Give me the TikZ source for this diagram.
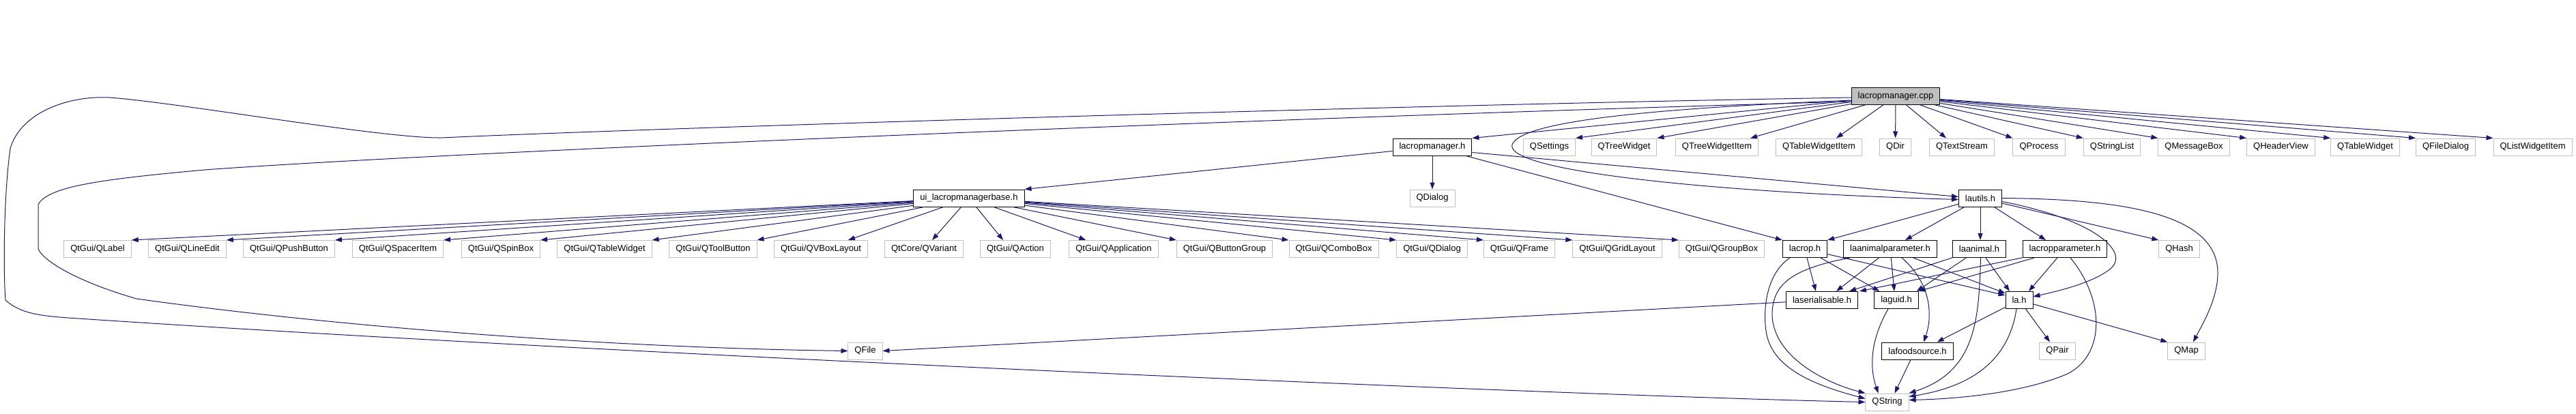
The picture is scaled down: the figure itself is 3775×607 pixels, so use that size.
\documentclass[tikz,border=0pt]{standalone}
\usepackage{fontspec}
\setmainfont{Liberation Sans}
\usetikzlibrary{arrows.meta,calc}
\definecolor{edgecol}{HTML}{191970}
\definecolor{graybd}{HTML}{BFBFBF}
\begin{document}
\begin{tikzpicture}[x=1pt,y=-1pt,
  box/.style={rectangle, draw, line width=1pt, fill=white, minimum height=25pt, inner xsep=9.5pt, inner ysep=2pt, font=\fontsize{13}{15}\selectfont},
  gbox/.style={box, draw=graybd},
  bbox/.style={box, draw=black},
  cppbox/.style={box, draw=black, fill=graybd},
  dep/.style={draw=edgecol, line width=1pt, -{Triangle[length=10pt,width=7pt]}, edgecol}]
\useasboundingbox (0,0) rectangle (3775,607);
% row 0
\node[cppbox] (cpp) at (2778,141) {lacropmanager.cpp};
% row 1
\node[bbox] (lcmh) at (2099,215.5) {lacropmanager.h};
\node[gbox] (qsettings) at (2270.5,215.5) {QSettings};
\node[gbox] (qtreewidget) at (2380,215.5) {QTreeWidget};
\node[gbox] (qtreewidgetitem) at (2516,215.5) {QTreeWidgetItem};
\node[gbox] (qtablewidgetitem) at (2665.5,215.5) {QTableWidgetItem};
\node[gbox] (qdir) at (2777.5,215.5) {QDir};
\node[gbox] (qtextstream) at (2875,215.5) {QTextStream};
\node[gbox] (qprocess) at (2988,215.5) {QProcess};
\node[gbox] (qstringlist) at (3095,215.5) {QStringList};
\node[gbox] (qmessagebox) at (3215,215.5) {QMessageBox};
\node[gbox] (qheaderview) at (3342.5,215.5) {QHeaderView};
\node[gbox] (qtablewidget) at (3466,215.5) {QTableWidget};
\node[gbox] (qfiledialog) at (3584,215.5) {QFileDialog};
\node[gbox] (qlistwidgetitem) at (3711.5,215.5) {QListWidgetItem};
% row 2
\node[bbox] (ui) at (1420,290.5) {ui\_lacropmanagerbase.h};
\node[gbox] (qdialog) at (2099,290.5) {QDialog};
\node[bbox] (lautils) at (2902,290.5) {lautils.h};
% row 3
\node[gbox] (qlabel) at (143,365) {QtGui/QLabel};
\node[gbox] (qlineedit) at (274.5,365) {QtGui/QLineEdit};
\node[gbox] (qpushbutton) at (423.5,365) {QtGui/QPushButton};
\node[gbox] (qspaceritem) at (583,365) {QtGui/QSpacerItem};
\node[gbox] (qspinbox) at (734,365) {QtGui/QSpinBox};
\node[gbox] (qtablewidgetA) at (886,365) {QtGui/QTableWidget};
\node[gbox] (qtoolbutton) at (1045,365) {QtGui/QToolButton};
\node[gbox] (qvboxlayout) at (1203,365) {QtGui/QVBoxLayout};
\node[gbox] (qvariant) at (1354,365) {QtCore/QVariant};
\node[gbox] (qaction) at (1488,365) {QtGui/QAction};
\node[gbox] (qapplication) at (1632,365) {QtGui/QApplication};
\node[gbox] (qbuttongroup) at (1794.5,365) {QtGui/QButtonGroup};
\node[gbox] (qcombobox) at (1954.5,365) {QtGui/QComboBox};
\node[gbox] (qdialogA) at (2098.5,365) {QtGui/QDialog};
\node[gbox] (qframe) at (2226.5,365) {QtGui/QFrame};
\node[gbox] (qgridlayout) at (2370,365) {QtGui/QGridLayout};
\node[gbox] (qgroupbox) at (2523,365) {QtGui/QGroupBox};
\node[bbox] (lacrop) at (2645,365) {lacrop.h};
\node[bbox] (laap) at (2770,365) {laanimalparameter.h};
\node[bbox] (laanimal) at (2900.5,365) {laanimal.h};
\node[bbox] (lcp) at (3026,365) {lacropparameter.h};
\node[gbox] (qhash) at (3193.5,365) {QHash};
% row 4
\node[bbox] (laser) at (2670,440) {laserialisable.h};
\node[bbox] (laguid) at (2779,440) {laguid.h};
\node[bbox] (lah) at (2959,440) {la.h};
% row 5
\node[gbox] (qfile) at (1268,514.5) {QFile};
\node[bbox] (lafood) at (2810,514.5) {lafoodsource.h};
\node[gbox] (qpair) at (3015,514.5) {QPair};
\node[gbox] (qmap) at (3204,514.5) {QMap};
% row 6
\node[gbox] (qstring) at (2765.5,589.5) {QString};

% ---- edges from lacropmanager.cpp
\draw[dep] (cpp) -- (lcmh.north east);
\draw[dep] (cpp) -- (qsettings.north east);
\draw[dep] (cpp) -- (qtreewidget.north east);
\draw[dep] (cpp) -- ($(qtreewidgetitem.north east)+(-12,0)$);
\draw[dep] (cpp) -- ($(qtablewidgetitem.north east)+(-38,0)$);
\draw[dep] (cpp) -- (qdir);
\draw[dep] (cpp) -- ($(qtextstream.north)+(-23,0)$);
\draw[dep] (cpp) -- (qprocess.north west);
\draw[dep] (cpp) -- (qstringlist.north west);
\draw[dep] (cpp) -- (qmessagebox.north west);
\draw[dep] (cpp) -- (qheaderview.north west);
\draw[dep] (cpp) -- (qtablewidget.north west);
\draw[dep] (cpp) -- (qfiledialog.north west);
\draw[dep] (cpp) -- (qlistwidgetitem.north west);
\draw[dep] ($(cpp.west)+(0,6)$) .. controls (2450,158) and (2230,175) .. (2216,212) .. controls (2205,250) and (2500,282) .. ($(lautils.west)+(0,2)$);
\draw[dep] ($(cpp.west)+(0,2)$) .. controls (2000,155) and (900,190) .. (647,202) .. controls (560,203) and (260,150) .. (160,143) .. controls (100,140) and (30,165) .. (15,218) .. controls (5,290) and (5,400) .. (8,440) .. controls (30,460) and (60,463) .. (100,466) .. controls (900,520) and (2300,580) .. (qstring.west);
\draw[dep] ($(cpp.west)+(0,8)$) .. controls (2000,168) and (700,220) .. (300,249) .. controls (160,262) and (70,272) .. (56,300) -- (56,365) .. controls (65,385) and (120,415) .. (200,438) .. controls (500,480) and (900,510) .. (qfile.west);

% ---- edges from lacropmanager.h
\draw[dep] (lcmh) -- (ui.north east);
\draw[dep] (lcmh) -- (qdialog);
\draw[dep] (lcmh) -- (lacrop.north west);
\draw[dep] ($(lcmh.east)+(0,8)$) -- ($(lautils.west)+(0,-2)$);

% ---- edges from ui_lacropmanagerbase.h
\draw[dep] (ui) -- (qlabel.north east);
\draw[dep] (ui) -- (qlineedit.north east);
\draw[dep] (ui) -- (qpushbutton.north east);
\draw[dep] (ui) -- (qspaceritem.north east);
\draw[dep] (ui) -- (qspinbox.north east);
\draw[dep] (ui) -- (qtablewidgetA.north east);
\draw[dep] (ui) -- (qtoolbutton.north east);
\draw[dep] (ui) -- ($(qvboxlayout.north east)+(-29,0)$);
\draw[dep] (ui) -- ($(qvariant.north)+(12,0)$);
\draw[dep] (ui) -- ($(qaction.north)+(-18,0)$);
\draw[dep] (ui) -- ($(qapplication.north west)+(25,0)$);
\draw[dep] (ui) -- (qbuttongroup.north west);
\draw[dep] (ui) -- (qcombobox.north west);
\draw[dep] (ui) -- (qdialogA.north west);
\draw[dep] (ui) -- (qframe.north west);
\draw[dep] (ui) -- (qgridlayout.north west);
\draw[dep] (ui) -- (qgroupbox.north west);

% ---- edges from lautils.h
\draw[dep] (lautils) -- (lacrop.north east);
\draw[dep] (lautils) -- ($(laap.north)+(22,0)$);
\draw[dep] (lautils) -- (lautils |- laanimal.north);
\draw[dep] (lautils) -- ($(lcp.north)+(-28,0)$);
\draw[dep] (lautils) -- (qhash.north west);
\draw[dep] ($(lautils.east)+(0,5)$) .. controls (3060,320) and (3120,365) .. (3095,392) .. controls (3070,415) and (3010,428) .. ($(lah.east)+(0,-5)$);
\draw[dep] (lautils.east) .. controls (3100,292) and (3250,310) .. (3250,400) .. controls (3250,440) and (3225,480) .. ($(qmap.north)+(10,0)$);

% ---- edges from lacrop.h
\draw[dep] ($(lacrop.south)+(-22,0)$) .. controls (2590,400) and (2583,450) .. (2588,485) .. controls (2595,540) and (2660,565) .. ($(qstring.west)+(0,-5)$);
\draw[dep] ($(lacrop.south)+(3,0)$) -- ($(laser.north)+(-9,0)$);
\draw[dep] (lacrop) -- ($(laguid.north west)+(8,0)$);
\draw[dep] (lacrop) -- ($(lah.west)+(0,-7)$);

% ---- edges from laanimalparameter.h
\draw[dep] ($(laap.south west)+(10,0)$) .. controls (2620,395) and (2598,420) .. (2597,460) .. controls (2597,520) and (2670,560) .. (qstring.north west);
\draw[dep] (laap) -- ($(laser.north)+(21,0)$);
\draw[dep] (laap) -- ($(laguid.north)+(-3,0)$);
\draw[dep] ($(laap.south)+(17,0)$) .. controls (2835,420) and (2830,470) .. ($(lafood.north)+(9,0)$);
\draw[dep] (laap) -- ($(lah.west)+(0,-10)$);

% ---- edges from laanimal.h
\draw[dep] (laanimal) -- ($(laser.north east)+(-13,0)$);
\draw[dep] (laanimal) -- ($(laguid.north east)+(-3,0)$);
\draw[dep] ($(laanimal.south)+(2,0)$) .. controls (2900,470) and (2895,545) .. (qstring.north east);
\draw[dep] (laanimal) -- ($(lah.north)+(-14,0)$);

% ---- edges from lacropparameter.h
\draw[dep] (lcp) -- ($(laser.north east)+(2,0)$);
\draw[dep] (lcp) -- (laguid.north east);
\draw[dep] (lcp) -- ($(lah.north)+(14,0)$);
\draw[dep] ($(lcp.south)+(8,0)$) .. controls (3085,440) and (3085,520) .. (3030,548) .. controls (2960,578) and (2860,585) .. ($(qstring.east)+(0,-3)$);

% ---- edges from la.h
\draw[dep] (lah) -- ($(lafood.north east)+(-24,0)$);
\draw[dep] ($(lah.south)+(-4,0)$) .. controls (2945,520) and (2900,565) .. ($(qstring.east)+(0,-8)$);
\draw[dep] (lah) -- ($(qpair.north)+(-11,0)$);
\draw[dep] (lah) -- (qmap.north west);

% ---- others
\draw[dep] ($(laguid.south)+(-12,0)$) .. controls (2740,500) and (2740,540) .. ($(qstring.north)+(-13,0)$);
\draw[dep] ($(lafood.south)+(-10,0)$) -- ($(qstring.north)+(11,0)$);
\draw[dep] (laser) -- (qfile.east);
\end{tikzpicture}
\end{document}
